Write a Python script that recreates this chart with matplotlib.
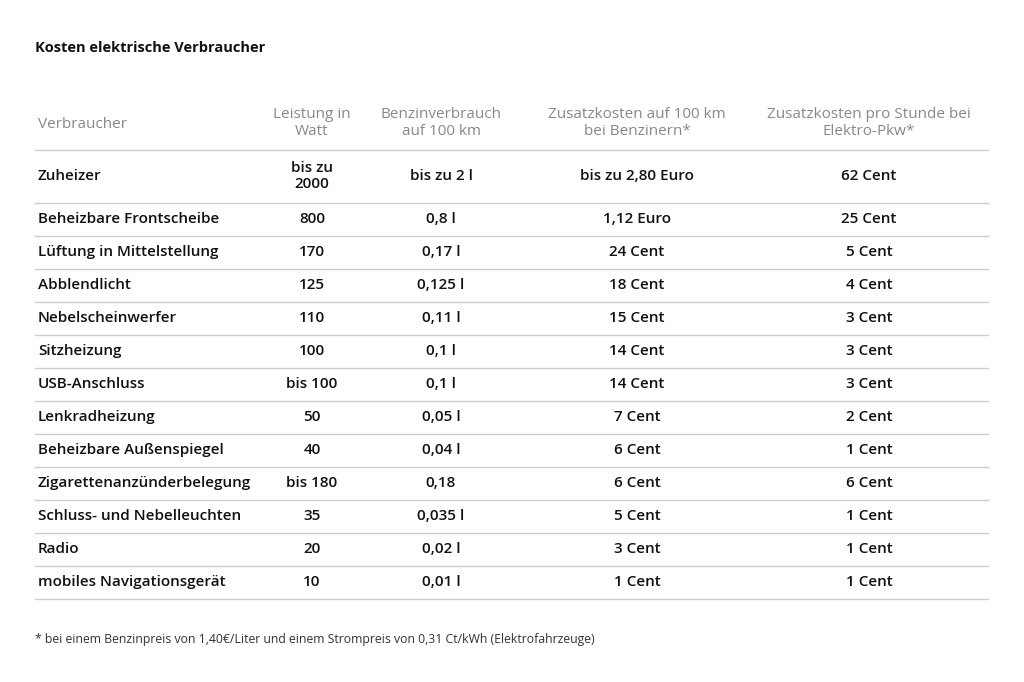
import matplotlib
matplotlib.use("Agg")
import matplotlib.pyplot as plt
from matplotlib.lines import Line2D

title = "Kosten elektrische Verbraucher"
headers = ["Verbraucher", "Leistung in\nWatt", "Benzinverbrauch\nauf 100 km",
           "Zusatzkosten auf 100 km\nbei Benzinern*", "Zusatzkosten pro Stunde bei\nElektro-Pkw*"]
verbraucher = ["Zuheizer", "Beheizbare Frontscheibe", "Lüftung in Mittelstellung", "Abblendlicht",
               "Nebelscheinwerfer", "Sitzheizung", "USB-Anschluss", "Lenkradheizung",
               "Beheizbare Außenspiegel", "Zigarettenanzünderbelegung", "Schluss- und Nebelleuchten",
               "Radio", "mobiles Navigationsgerät"]
leistung = ["bis zu\n2000", "800", "170", "125", "110", "100", "bis 100", "50", "40", "bis 180", "35", "20", "10"]
benzin = ["bis zu 2 l", "0,8 l", "0,17 l", "0,125 l", "0,11 l", "0,1 l", "0,1 l", "0,05 l", "0,04 l",
          "0,18", "0,035 l", "0,02 l", "0,01 l"]
kosten_benzin = ["bis zu 2,80 Euro", "1,12 Euro", "24 Cent", "18 Cent", "15 Cent", "14 Cent", "14 Cent",
                 "7 Cent", "6 Cent", "6 Cent", "5 Cent", "3 Cent", "1 Cent"]
kosten_elektro = ["62 Cent", "25 Cent", "5 Cent", "4 Cent", "3 Cent", "3 Cent", "3 Cent", "2 Cent",
                  "1 Cent", "6 Cent", "1 Cent", "1 Cent", "1 Cent"]
footnote = "* bei einem Benzinpreis von 1,40€/Liter und einem Strompreis von 0,31 Ct/kWh (Elektrofahrzeuge)"

W, H = 1024, 682
fig = plt.figure(figsize=(W/100, H/100), dpi=100)
fig.patch.set_facecolor("white")
FONT = "Open Sans"

def t(x, y, s, **kw):
    kw.setdefault("fontfamily", FONT)
    kw.setdefault("va", "center")
    fig.text(x / W, 1 - y / H, s, **kw)

def hline(y, color="#cccccc", lw=1.0):
    fig.add_artist(Line2D([35 / W, 988 / W], [1 - y / H] * 2, color=color, lw=lw))

t(35, 48, title, fontsize=10.5, fontweight="bold", color="#111111")

cols_x = [38, 312, 441, 637, 869]
aligns = ["left", "center", "center", "center", "center"]
for x, a, h in zip(cols_x, aligns, headers):
    t(x, 124 if a == "left" else 123, h, ha=a, fontsize=11, color="#888888", linespacing=1.15)
hline(150)

row_y = [176] + [219 + 33 * i for i in range(12)]
line_y = [203] + [236 + 33 * i for i in range(12)]
for i in range(len(verbraucher)):
    vals = [verbraucher[i], leistung[i], benzin[i], kosten_benzin[i], kosten_elektro[i]]
    for x, a, v in zip(cols_x, aligns, vals):
        t(x, row_y[i], v, ha=a, fontsize=11, fontweight=600, color="#111111", linespacing=1.15)
    hline(line_y[i])

t(35, 640, footnote, fontsize=8.8, color="#333333")
fig.savefig("out.png", dpi=100)
